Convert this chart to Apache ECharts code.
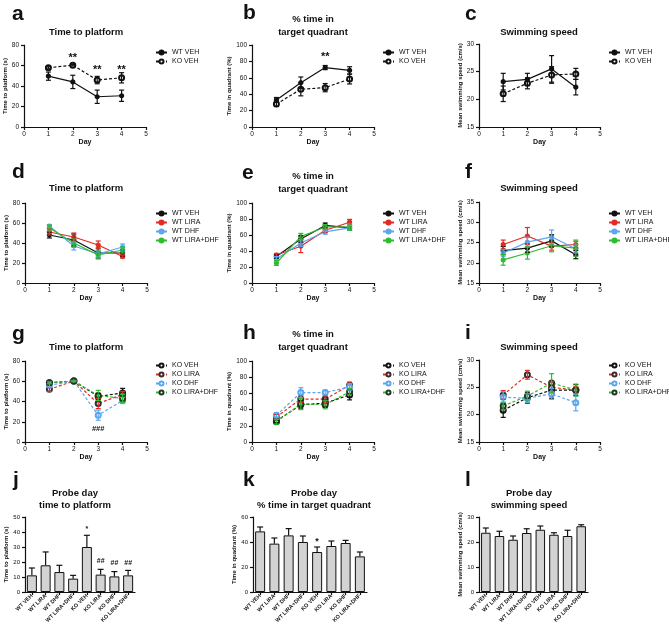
<!DOCTYPE html>
<html><head><meta charset="utf-8">
<script src="https://cdn.jsdelivr.net/npm/echarts@6/dist/echarts.min.js"></script>
<style>html,body{margin:0;padding:0;background:#fff}#c{width:669px;height:633px}</style>
</head><body><div id="c"></div>
<script>
// ---------- DATA ----------
const days = [1, 2, 3, 4];
const groups = ["WT VEH", "WT LIRA", "WT DHF", "WT LIRA+DHF", "KO VEH", "KO LIRA", "KO DHF", "KO LIRA+DHF"];

// a: time to platform
const aWtVeh = [49.6, 44, 29.5, 30.5], aWtVehErr = [4, 6.5, 6.5, 5.5];
const aKoVeh = [57.8, 60.3, 45.8, 48], aKoVehErr = [1, 0.7, 3.6, 5];
// b: % time in target quadrant
const bWtVeh = [33, 54, 72.5, 69], bWtVehErr = [3, 7, 2.5, 4.5];
const bKoVeh = [28, 46, 48, 58.5], bKoVehErr = [3, 8, 5, 6];
// c: swimming speed
const cWtVeh = [23.2, 23.6, 25.5, 22.2], cWtVehErr = [1.5, 1.1, 2.4, 1.4];
const cKoVeh = [21.0, 22.9, 24.4, 24.6], cKoVehErr = [1.4, 1.0, 1.5, 1.0];
// d
const dWtVeh = [48, 43, 30, 30], dWtVehErr = [3, 6, 5, 3];
const dWtLira = [51, 46, 38, 26.5], dWtLiraErr = [3, 4, 4, 1.5];
const dWtDhf = [57, 37, 29, 36], dWtDhfErr = [1.5, 4, 3, 3];
const dWtLiraDhf = [55, 40, 28, 33], dWtLiraDhfErr = [3, 4, 4, 3];
// e
const eWtVeh = [33, 55, 72, 69], eWtVehErr = [2, 4, 3, 3];
const eWtLira = [35, 46, 66, 76], eWtLiraErr = [2, 8, 3, 3.5];
const eWtDhf = [30, 50, 64, 69], eWtDhfErr = [3, 4, 3, 3];
const eWtLiraDhf = [25, 58, 70, 70], eWtLiraDhfErr = [3, 4, 3, 4];
// f
const fWtVeh = [23, 23.6, 25.4, 22], fWtVehErr = [1, 1, 1.5, 1];
const fWtLira = [24.5, 26.6, 24.1, 24.5], fWtLiraErr = [1.1, 2.1, 1, 0.8];
const fWtDhf = [22.4, 25.1, 26.4, 23.4], fWtDhfErr = [0.8, 1.2, 1.7, 1.0];
const fWtLiraDhf = [20.7, 22.4, 24.2, 23.6], fWtLiraDhfErr = [1.3, 1.5, 1.5, 2.0];
// g
const gKoVeh = [58.5, 60.2, 45, 48.5], gKoVehErr = [1, 0.5, 3, 4.5];
const gKoLira = [52, 60.2, 38, 47], gKoLiraErr = [2, 0.5, 5, 3];
const gKoDhf = [56, 60.2, 26.5, 41], gKoDhfErr = [2, 0.5, 5, 3];
const gKoLiraDhf = [58.5, 60.2, 46, 43], gKoLiraDhfErr = [1, 0.5, 5, 4];
// h
const hKoVeh = [26, 46, 48, 58], hKoVehErr = [2, 5, 5, 6];
const hKoLira = [31, 53, 53, 70], hKoLiraErr = [3, 4, 4, 4];
const hKoDhf = [33, 61, 61, 68], hKoDhfErr = [3, 6, 3, 4];
const hKoLiraDhf = [25, 47, 46, 62], hKoLiraDhfErr = [3, 7, 5, 4];
// i
const iKoVeh = [20.8, 23.1, 24.5, 24.5], iKoVehErr = [1.3, 1.0, 1.5, 1.0];
const iKoLira = [23.6, 27.3, 25.0, 24.5], iKoLiraErr = [0.8, 0.8, 1.0, 0.6];
const iKoDhf = [23.2, 23.0, 23.8, 22.2], iKoDhfErr = [1.0, 0.8, 1.0, 1.5];
const iKoLiraDhf = [21.6, 23.4, 25.8, 24.5], iKoLiraDhfErr = [0.7, 0.9, 1.7, 1.1];
// j, k, l: probe day bars
const jMean = [11.1, 17.8, 13.3, 8.9, 30, 11.6, 10.4, 11.1], jErr = [4.9, 8.9, 4.5, 2.2, 7.8, 3.5, 3.2, 3.3];
const kMean = [48.5, 38.7, 45.3, 40, 32, 36.8, 39.2, 28.5], kErr = [3.5, 4.5, 5.4, 4.8, 4, 4, 2.1, 3.5];
const lMean = [23.7, 22.4, 20.9, 23.6, 24.9, 22.9, 22.4, 26.3], lErr = [1.9, 1.9, 1.5, 1.7, 1.5, 0.8, 2.3, 0.6];
// significance marks
const aMarkX = [2, 3, 4], aMarkY = [67, 56, 56], aMarkT = ["**", "**", "**"];
const bMarkX = [3], bMarkY = [85], bMarkT = ["**"];
const gMarkX = [3], gMarkY = [13], gMarkT = ["###"];
const jMarkX = [4, 5, 6, 7], jMarkY = [42, 20.5, 19, 19.5], jMarkT = ["*", "##", "##", "##"];
const kMarkX = [4], kMarkY = [40.5], kMarkT = ["*"];

// ---------- STYLE / LAYOUT ----------
const FONT = "'Liberation Sans', Arial, Helvetica, sans-serif";
const INK = '#111';
const RED = '#e32b25', BLUE = '#5aa7f0', GREEN = '#2ebd2e';
const ST = {
  wtTop: { line: INK, marker: INK, symbol: 'circle', size: 4, dash: false },
  koTop: { line: INK, marker: INK, symbol: 'emptyCircle', size: 5, dash: true },
  wtVeh: { line: INK, marker: INK, symbol: 'circle', size: 4, dash: false },
  wtLira: { line: RED, marker: RED, symbol: 'circle', size: 4, dash: false },
  wtDhf: { line: BLUE, marker: BLUE, symbol: 'circle', size: 4, dash: false },
  wtLD: { line: GREEN, marker: GREEN, symbol: 'circle', size: 4, dash: false },
  koVeh: { line: INK, marker: INK, symbol: 'emptyCircle', size: 5, dash: true },
  koLira: { line: RED, marker: '#3a2a2a', symbol: 'emptyCircle', size: 5, dash: true },
  koDhf: { line: BLUE, marker: BLUE, symbol: 'emptyCircle', size: 5, dash: true },
  koLD: { line: GREEN, marker: '#1e3a1e', symbol: 'emptyCircle', size: 5, dash: true }
};

const grids = [], xAxes = [], yAxes = [], series = [], legends = [], graphics = [];

const axisCommon = {
  axisLine: { show: true, onZero: false, lineStyle: { color: INK, width: 1.2 } },
  axisTick: { show: true, length: 3, lineStyle: { color: INK, width: 1.2 } },
  splitLine: { show: false },
  nameTextStyle: { fontSize: 6, fontWeight: 'bold', color: INK, fontFamily: FONT }
};

function errRender(color, both, cap) {
  return function (params, api) {
    const x = api.value(0), lo = api.value(1), hi = api.value(2);
    const p1 = api.coord([x, lo]), p2 = api.coord([x, hi]);
    const st = { stroke: color, lineWidth: 1.2 };
    const ch = [
      { type: 'line', shape: { x1: p1[0], y1: p1[1], x2: p2[0], y2: p2[1] }, style: st },
      { type: 'line', shape: { x1: p2[0] - cap, y1: p2[1], x2: p2[0] + cap, y2: p2[1] }, style: st }
    ];
    if (both) ch.push({ type: 'line', shape: { x1: p1[0] - cap, y1: p1[1], x2: p1[0] + cap, y2: p1[1] }, style: st });
    return { type: 'group', children: ch };
  };
}

function addMarks(gi, xs, ys, texts, size) {
  series.push({
    type: 'custom', xAxisIndex: gi, yAxisIndex: gi, z: 6, silent: true,
    data: xs.map((x, i) => [x, ys[i]]),
    encode: { x: 0, y: 1 },
    renderItem: function (params, api) {
      const p = api.coord([api.value(0), api.value(1)]);
      return { type: 'text', x: p[0], y: p[1], style: { text: texts[params.dataIndex], textAlign: 'center', textVerticalAlign: 'middle', font: 'bold ' + size + 'px ' + FONT, fill: INK } };
    }
  });
}

function addLinePanel(p) {
  const gi = grids.length;
  grids.push({ left: p.grid[0], top: p.grid[1], width: p.grid[2], height: p.grid[3] });
  xAxes.push(Object.assign({}, axisCommon, {
    gridIndex: gi, type: 'value', min: 0, max: 5, interval: 1,
    name: 'Day', nameLocation: 'middle', nameGap: 12,
    nameTextStyle: { fontSize: 7, fontWeight: 'bold', color: INK, fontFamily: FONT },
    axisLabel: { fontSize: 6.5, color: INK, margin: 4, fontFamily: FONT }
  }));
  yAxes.push(Object.assign({}, axisCommon, {
    gridIndex: gi, type: 'value', min: p.y[0], max: p.y[1], interval: p.y[2],
    name: p.yName, nameLocation: 'middle', nameGap: p.nameGap,
    axisLabel: { fontSize: 6.5, color: INK, margin: 5, fontFamily: FONT }
  }));
  const names = [];
  p.series.forEach(s => {
    const nm = s.name + '#' + p.id;
    names.push(nm);
    series.push({
      type: 'line', name: nm, xAxisIndex: gi, yAxisIndex: gi, z: 3,
      data: days.map((d, i) => [d, s.values[i]]),
      symbol: s.st.symbol, symbolSize: s.st.size, showSymbol: true,
      itemStyle: { color: s.st.marker, borderColor: s.st.marker, borderWidth: 1.2 },
      lineStyle: { color: s.st.line, width: 1.2, type: s.st.dash ? [3, 2] : 'solid' }
    });
    series.push({
      type: 'custom', xAxisIndex: gi, yAxisIndex: gi, z: 4, silent: true,
      data: days.map((d, i) => [d, s.values[i] - s.errs[i], s.values[i] + s.errs[i]]),
      encode: { x: 0, y: [1, 2] },
      renderItem: errRender(s.st.line, true, 2.5)
    });
  });
  legends.push({
    orient: 'vertical', left: p.legend[0], top: p.legend[1], padding: 0, itemWidth: 11, itemHeight: 5, itemGap: 2,
    data: names, selectedMode: false, formatter: n => n.split('#')[0],
    textStyle: { fontSize: 7, lineHeight: 7, color: INK, fontFamily: FONT }
  });
  return gi;
}

function addBarPanel(p) {
  const gi = grids.length;
  grids.push({ left: p.grid[0], top: p.grid[1], width: p.grid[2], height: p.grid[3] });
  xAxes.push(Object.assign({}, axisCommon, {
    gridIndex: gi, type: 'category', data: groups,
    axisTick: { show: true, alignWithLabel: true, length: 3, lineStyle: { color: INK, width: 1.2 } },
    axisLabel: { rotate: 45, interval: 0, fontSize: 5.5, fontWeight: 'bold', color: INK, margin: 3, fontFamily: FONT }
  }));
  yAxes.push(Object.assign({}, axisCommon, {
    gridIndex: gi, type: 'value', min: p.y[0], max: p.y[1], interval: p.y[2],
    name: p.yName, nameLocation: 'middle', nameGap: p.nameGap,
    axisLabel: { fontSize: 6, color: INK, margin: 5, fontFamily: FONT }
  }));
  series.push({
    type: 'bar', xAxisIndex: gi, yAxisIndex: gi, data: p.values, barWidth: p.barWidth, z: 2,
    itemStyle: { color: '#d3d3d3', borderColor: INK, borderWidth: 1 }
  });
  series.push({
    type: 'custom', xAxisIndex: gi, yAxisIndex: gi, z: 4, silent: true,
    data: p.values.map((v, i) => [i, v, v + p.errs[i]]),
    encode: { x: 0, y: [1, 2] },
    renderItem: errRender(INK, false, 3)
  });
  return gi;
}

// Row 1
const ga = addLinePanel({ id: 'a', grid: [24, 45, 122, 82], y: [0, 80, 20], yName: 'Time to platform (s)', nameGap: 13, legend: [155, 49],
  series: [{ name: 'WT VEH', values: aWtVeh, errs: aWtVehErr, st: ST.wtTop }, { name: 'KO VEH', values: aKoVeh, errs: aKoVehErr, st: ST.koTop }] });
const gb = addLinePanel({ id: 'b', grid: [252, 45, 122, 82], y: [0, 100, 20], yName: 'Time in quadrant (%)', nameGap: 16, legend: [382, 49],
  series: [{ name: 'WT VEH', values: bWtVeh, errs: bWtVehErr, st: ST.wtTop }, { name: 'KO VEH', values: bKoVeh, errs: bKoVehErr, st: ST.koTop }] });
const gc = addLinePanel({ id: 'c', grid: [479, 44, 121, 83], y: [15, 30, 5], yName: 'Mean swimming speed (cm/s)', nameGap: 13, legend: [608, 49],
  series: [{ name: 'WT VEH', values: cWtVeh, errs: cWtVehErr, st: ST.wtTop }, { name: 'KO VEH', values: cKoVeh, errs: cKoVehErr, st: ST.koTop }] });
// Row 2
const gd = addLinePanel({ id: 'd', grid: [25, 203, 122, 80], y: [0, 80, 20], yName: 'Time to platform (s)', nameGap: 13, legend: [155, 210],
  series: [{ name: 'WT VEH', values: dWtVeh, errs: dWtVehErr, st: ST.wtVeh }, { name: 'WT LIRA', values: dWtLira, errs: dWtLiraErr, st: ST.wtLira },
    { name: 'WT DHF', values: dWtDhf, errs: dWtDhfErr, st: ST.wtDhf }, { name: 'WT LIRA+DHF', values: dWtLiraDhf, errs: dWtLiraDhfErr, st: ST.wtLD }] });
const ge = addLinePanel({ id: 'e', grid: [252, 203, 122, 80], y: [0, 100, 20], yName: 'Time in quadrant (%)', nameGap: 16, legend: [382, 210],
  series: [{ name: 'WT VEH', values: eWtVeh, errs: eWtVehErr, st: ST.wtVeh }, { name: 'WT LIRA', values: eWtLira, errs: eWtLiraErr, st: ST.wtLira },
    { name: 'WT DHF', values: eWtDhf, errs: eWtDhfErr, st: ST.wtDhf }, { name: 'WT LIRA+DHF', values: eWtLiraDhf, errs: eWtLiraDhfErr, st: ST.wtLD }] });
const gf = addLinePanel({ id: 'f', grid: [479, 202, 121, 81], y: [15, 35, 5], yName: 'Mean swimming speed (cm/s)', nameGap: 13, legend: [608, 210],
  series: [{ name: 'WT VEH', values: fWtVeh, errs: fWtVehErr, st: ST.wtVeh }, { name: 'WT LIRA', values: fWtLira, errs: fWtLiraErr, st: ST.wtLira },
    { name: 'WT DHF', values: fWtDhf, errs: fWtDhfErr, st: ST.wtDhf }, { name: 'WT LIRA+DHF', values: fWtLiraDhf, errs: fWtLiraDhfErr, st: ST.wtLD }] });
// Row 3
const gg = addLinePanel({ id: 'g', grid: [25, 361, 122, 81], y: [0, 80, 20], yName: 'Time to platform (s)', nameGap: 13, legend: [155, 362],
  series: [{ name: 'KO VEH', values: gKoVeh, errs: gKoVehErr, st: ST.koVeh }, { name: 'KO LIRA', values: gKoLira, errs: gKoLiraErr, st: ST.koLira },
    { name: 'KO DHF', values: gKoDhf, errs: gKoDhfErr, st: ST.koDhf }, { name: 'KO LIRA+DHF', values: gKoLiraDhf, errs: gKoLiraDhfErr, st: ST.koLD }] });
const gh = addLinePanel({ id: 'h', grid: [252, 361, 122, 81], y: [0, 100, 20], yName: 'Time in quadrant (%)', nameGap: 16, legend: [382, 362],
  series: [{ name: 'KO VEH', values: hKoVeh, errs: hKoVehErr, st: ST.koVeh }, { name: 'KO LIRA', values: hKoLira, errs: hKoLiraErr, st: ST.koLira },
    { name: 'KO DHF', values: hKoDhf, errs: hKoDhfErr, st: ST.koDhf }, { name: 'KO LIRA+DHF', values: hKoLiraDhf, errs: hKoLiraDhfErr, st: ST.koLD }] });
const gi_ = addLinePanel({ id: 'i', grid: [479, 360, 121, 82], y: [15, 30, 5], yName: 'Mean swimming speed (cm/s)', nameGap: 13, legend: [608, 362],
  series: [{ name: 'KO VEH', values: iKoVeh, errs: iKoVehErr, st: ST.koVeh }, { name: 'KO LIRA', values: iKoLira, errs: iKoLiraErr, st: ST.koLira },
    { name: 'KO DHF', values: iKoDhf, errs: iKoDhfErr, st: ST.koDhf }, { name: 'KO LIRA+DHF', values: iKoLiraDhf, errs: iKoLiraDhfErr, st: ST.koLD }] });
// Row 4
const gj = addBarPanel({ grid: [25, 517, 110, 75], y: [0, 50, 10], yName: 'Time to platform (s)', nameGap: 12, values: jMean, errs: jErr, barWidth: 10 });
const gk = addBarPanel({ grid: [253, 517, 114, 75], y: [0, 60, 20], yName: 'Time in quadrant (%)', nameGap: 12, values: kMean, errs: kErr, barWidth: 10 });
const gl = addBarPanel({ grid: [479, 517, 109, 75], y: [0, 30, 10], yName: 'Mean swimming speed (cm/s)', nameGap: 13, values: lMean, errs: lErr, barWidth: 9.5 });

addMarks(ga, aMarkX, aMarkY, aMarkT, 11);
addMarks(gb, bMarkX, bMarkY, bMarkT, 11);
addMarks(gg, gMarkX, gMarkY, gMarkT, 7.5);
addMarks(gj, jMarkX, jMarkY, jMarkT, 7);
addMarks(gk, kMarkX, kMarkY, kMarkT, 9);

// titles & panel letters
function txt(text, x, y, size, align) {
  graphics.push({ type: 'text', x: x, y: y, silent: true,
    style: { text: text, font: 'bold ' + size + 'px ' + FONT, fill: INK, textAlign: align || 'center', textVerticalAlign: 'middle' } });
}
[['a', 12, 14], ['b', 243, 13], ['c', 465, 14], ['d', 12, 172], ['e', 242, 173], ['f', 465, 172],
 ['g', 12, 334], ['h', 243, 333], ['i', 465, 333], ['j', 13, 480], ['k', 243, 480], ['l', 465, 480]]
  .forEach(t => txt(t[0], t[1], t[2], 21, 'left'));
const T = 9.5;
txt('Time to platform', 86, 32, T); txt('% time in', 313, 19, T); txt('target quadrant', 313, 32, T); txt('Swimming speed', 539, 32, T);
txt('Time to platform', 86, 188, T); txt('% time in', 313, 176, T); txt('target quadrant', 313, 189, T); txt('Swimming speed', 539, 188, T);
txt('Time to platform', 86, 347, T); txt('% time in', 313, 334, T); txt('target quadrant', 313, 347, T); txt('Swimming speed', 539, 347, T);
txt('Probe day', 75, 493, T); txt('time to platform', 75, 505, T);
txt('Probe day', 314, 493, T); txt('% time in target quadrant', 314, 505, T);
txt('Probe day', 529, 493, T); txt('swimming speed', 529, 505, T);

const chart = echarts.init(document.getElementById('c'));
chart.setOption({
  animation: false,
  backgroundColor: '#fff',
  textStyle: { fontFamily: FONT },
  grid: grids, xAxis: xAxes, yAxis: yAxes, legend: legends, series: series,
  graphic: { elements: graphics }
});
</script></body></html>
